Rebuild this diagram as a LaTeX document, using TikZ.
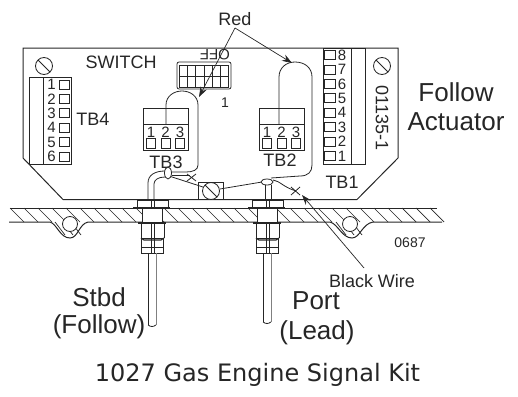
\documentclass[tikz,border=0pt]{standalone}
\usepackage{fontspec}
\setmainfont{Liberation Sans}
\newfontfamily\kitfont{DejaVu Sans}
\usetikzlibrary{positioning}
\usetikzlibrary{calc}
\usetikzlibrary{arrows.meta}
\definecolor{ink}{gray}{0.15}
\begin{document}
\begin{tikzpicture}[x=1pt, y=-1pt, line width=0.8pt, draw=ink, text=ink,
        big/.style={font=\fontsize{26}{26}\selectfont, inner sep=0pt},
        mid/.style={font=\fontsize{18}{18}\selectfont, inner sep=0pt},
        digit/.style={font=\fontsize{15}{15}\selectfont, inner sep=0pt},
        small/.style={font=\fontsize{14}{14}\selectfont, inner sep=0pt},
        hatch/.style={line width=0.7pt},
        leader/.style={line width=0.7pt, -{Stealth[length=10pt, width=7pt]}}]
    \useasboundingbox (0,0) rectangle (518,396);

    % panel
    \draw[line width=1pt] (23,48) -- (398,48) -- (398,158) -- (357,199.5) -- (63,199.5) -- (23,158) -- cycle;

    % hatched plate
    \foreach \x in {10,24,...,430}
        \draw[hatch] (\x,208) -- (\x+14,222);
    \foreach \x/\y in {55/222,63/222,71/222,336/222,344/222,352/222}
        \draw[hatch] (\x,\y) -- (\x+10,\y+13);
    \draw[line width=1pt] (10,208) -- (437,208);
    \draw[line width=1pt] (9,222) -- (50,222) .. controls (57,224) and (60,238) .. (70,238) .. controls (78,238) and (79,224) .. (88,222) -- (330,222) .. controls (338,224) and (342,238) .. (352,238) .. controls (360,238) and (362,224) .. (373,222) -- (442,222);
    \draw[fill=white] (70,224) circle (7.5);
    \draw[fill=white] (350,224) circle (7.5);

    % screws
    \foreach \cx/\cy in {44/66,211/191,382/66} {
        \draw[fill=white] (\cx,\cy) circle (8.5);
        \draw (\cx-6,\cy-6) -- (\cx+6,\cy+6);
    }
    \draw (198,199) -- (198,182) -- (223,182) -- (223,199);

    % TB4
    \draw (29,77) rectangle (71,164);
    \draw (43,77) -- (43,164);
    \foreach \n/\y in {1/84.5,2/98.8,3/113.1,4/127.6,5/142,6/156.5} {
        \draw (59,\y-4.5) rectangle (69,\y+4.5);
        \node[digit] (tbfour\n) at (51.5,\y) {\n};
    }
    \node[mid] (tbfour) at (93,119) {TB4};
    \node[mid] (switch) at (121,62) {SWITCH};

    % dip switch
    \draw[rounded corners=2pt] (177,62) rectangle (231,89);
    \draw (179,65) rectangle (228,87);
    \draw (179,76) -- (228,76);
    \foreach \x in {187,195,204,212,220}
        \draw (\x,65) -- (\x,87);
    \node[mid, scale=0.83, rotate=180] (off) at (215,55) {OFF};
    \node[small] (one) at (225,103) {1};

    % TB3 and TB2
    \foreach \bx/\name in {143/TB3,259/TB2} {
        \draw (\bx,108) rectangle (\bx+45,150);
        \draw (\bx,124) -- (\bx+45,124);
        \foreach \n/\dx in {1/8,2/22.5,3/37} {
            \node[digit] at (\bx+\dx,132) {\n};
            \draw (\bx+\dx-4.5,138.5) rectangle (\bx+\dx+4.5,148);
        }
    }
    \node[mid] (tbthree) at (166,162) {TB3};
    \node[mid] (tbtwo) at (280,160) {TB2};

    % TB1
    \draw (323,48) rectangle (365,164);
    \draw (351,48) -- (351,164);
    \foreach \n/\y in {8/55,7/69.4,6/83.9,5/98.3,4/112.7,3/127.1,2/141.6,1/156} {
        \draw (324.5,\y-4.5) rectangle (335,\y+4.5);
        \node[digit] (tbone\n) at (342,\y) {\n};
    }
    \node[mid] (tbone) at (342,182) {TB1};
    \node[mid, rotate=-90] (partno) at (382,118) {01135-1};

    % wires
    \draw (166,124) -- (166,105) .. controls (166,96) and (174,91) .. (182,91) .. controls (190,91) and (198,96) .. (198,105) -- (198,165) .. controls (198,170) and (193,172) .. (186,172) -- (172,172);
    \draw (279,124) -- (279,77) .. controls (279,68) and (286,62) .. (295,62) .. controls (305,62) and (312,68) .. (312,77) -- (312,165) .. controls (312,172) and (308,176) .. (300,176) -- (271,178);
    \draw (148,199) -- (148,183) .. controls (148,175) and (155,171) .. (165,171);
    \draw (154,199) -- (154,184) .. controls (154,180) and (158,177) .. (165,177);
    \draw (172,175) -- (190,175);
    \draw (187,174) -- (196,181) (187,181) -- (196,174);
    \draw (169,176) -- (203,187);
    \draw (220,189) -- (262,182);
    \draw[fill=white] (168,173) ellipse (3.5 and 6);
    \draw[fill=white] (267,182) ellipse (6 and 3);
    \draw (265,185) -- (265,199) (271,185) -- (271,199);
    \draw (273,180) .. controls (280,181) and (283,187) .. (296,191);
    \draw (291,187) -- (300,195) (291,195) -- (300,187);

    % fittings
    \foreach \fx/\cb in {0/325,115/322} {
        \begin{scope}[xshift=\fx]
            \fill[white] (142,208) rectangle (162,222);
            \draw (137,200) rectangle (168,207);
            \draw[line width=2pt] (133,208) -- (170,208);
            \draw (142,208) -- (142,222) (162,208) -- (162,222);
            \draw[line width=2pt] (138,223) -- (166,223);
            \draw (141,224) -- (141,238) (164,224) -- (164,238);
            \draw[line width=1.2pt] (141,238) -- (144,240) -- (161,240) -- (164,238);
            \draw (141,238) rectangle (163,253);
            \draw (141,247) -- (163,247);
            \draw (151,200) -- (151,208) (154,200) -- (154,208);
            \draw (151,224) -- (151,253) (154,224) -- (154,253);
            \draw (148,253) -- (148,\cb);
            \draw[gray] (156,253) -- (156,\cb);
            \draw (148,\cb) .. controls (151,\cb+2) and (153,\cb+2) .. (156,\cb);
        \end{scope}
    }

    % labels
    \node[mid] (red) at (235,19) {Red};
    \coordinate (redleft) at (199,97);
    \coordinate (redright) at (292,63);
    \draw[leader] (235,28) -- (redleft);
    \draw[leader] (235,28) -- (redright);

    \node[mid] (black) at (372,281) {Black Wire};
    \coordinate (blacktip) at (302,195);
    \draw[leader] ($(black.north)+(-8,-6)$) -- (blacktip);

    \node[small] (code) at (410,243) {0687};
    \node[big] (follow) at (456,92) {Follow};
    \node[big] (actuator) at (456,122) {Actuator};
    \node[big] (stbd) at (99,297) {Stbd};
    \node[big] (followlbl) at (99,327) {(Follow)};
    \node[big] (port) at (316,301) {Port};
    \node[big] (lead) at (317,333) {(Lead)};
    \node[inner sep=0pt, font=\kitfont\fontsize{24}{24}\selectfont] (kit) at (257.5,375) {1027 Gas Engine Signal Kit};
\end{tikzpicture}
\end{document}
